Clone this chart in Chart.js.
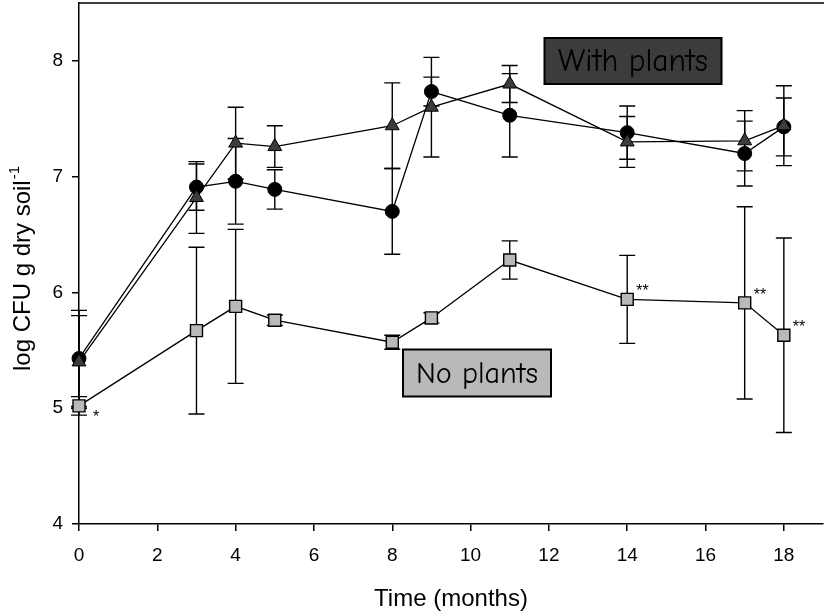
<!DOCTYPE html>
<html><head><meta charset="utf-8">
<script src="https://cdn.jsdelivr.net/npm/chart.js@4.4.0/dist/chart.umd.min.js"></script>
<style>html,body{margin:0;padding:0;background:#fff;}#wrap{width:825px;height:612px;}</style>
</head><body><div id="wrap"><canvas id="c" width="825" height="612"></canvas></div>
<script>
// ---- data ----
const months = [0, 3, 4, 5, 8, 9, 11, 14, 17, 18];
const withPlantsCircle = [5.43, 6.91, 6.96, 6.89, 6.70, 7.735, 7.53, 7.38, 7.20, 7.43];
const withPlantsCircleErr = [0.415, 0.20, 0.37, 0.17, 0.37, 0.125, 0.36, 0.23, 0.28, 0.25];
const withPlantsTriangle = [5.40, 6.82, 7.29, 7.26, 7.44, 7.60, 7.80, 7.30, 7.31, 7.44];
const withPlantsTriangleErr = [0.40, 0.31, 0.31, 0.18, 0.37, 0.43, 0.16, 0.22, 0.26, 0.345];
const noPlants = [5.02, 5.67, 5.88, 5.76, 5.57, 5.78, 6.28, 5.94, 5.91, 5.63];
const noPlantsErr = [0.08, 0.72, 0.665, 0.045, 0.06, 0.045, 0.165, 0.38, 0.83, 0.84];
const noPlantsSig = ['*', '', '', '', '', '', '', '**', '**', '**'];
const xTicks = [0, 2, 4, 6, 8, 10, 12, 14, 16, 18];
const yTicks = [4, 5, 6, 7, 8];
const xTitle = 'Time (months)';
const yTitle = 'log CFU g dry soil';
const yTitleSup = '-1';
const labelWith = 'With plants';
const labelNo = 'No plants';

const FONT = '"Liberation Sans", Arial, Helvetica, sans-serif';
const BOXFONT = '"Comic Sans MS", "Comic Neue", "DejaVu Sans", sans-serif';
const pts = (ys) => months.map((m, i) => ({x: m, y: ys[i]}));

const errorBars = {
  id: 'errorBars',
  beforeDatasetsDraw(chart) {
    const {ctx, scales: {x, y}} = chart;
    const errs = [withPlantsCircleErr, withPlantsTriangleErr, noPlantsErr];
    ctx.save();
    ctx.strokeStyle = '#000';
    ctx.lineWidth = 1.4;
    chart.data.datasets.forEach((ds, di) => {
      const e = errs[di];
      ds.data.forEach((p, i) => {
        const px = x.getPixelForValue(p.x);
        const top = y.getPixelForValue(p.y + e[i]);
        const bot = y.getPixelForValue(p.y - e[i]);
        ctx.beginPath();
        ctx.moveTo(px, top); ctx.lineTo(px, bot);
        ctx.moveTo(px - 8, top); ctx.lineTo(px + 8, top);
        ctx.moveTo(px - 8, bot); ctx.lineTo(px + 8, bot);
        ctx.stroke();
      });
    });
    ctx.restore();
  }
};

const decorations = {
  id: 'decorations',
  afterDraw(chart) {
    const {ctx, chartArea: ca, scales: {x, y}} = chart;
    ctx.save();
    // top frame line
    ctx.strokeStyle = '#000';
    ctx.lineWidth = 1.6;
    ctx.beginPath();
    ctx.moveTo(ca.left, ca.top); ctx.lineTo(ca.right + 1, ca.top);
    ctx.stroke();

    // significance asterisks
    ctx.fillStyle = '#000';
    ctx.font = '16px ' + FONT;
    ctx.textAlign = 'left';
    ctx.textBaseline = 'alphabetic';
    noPlantsSig.forEach((s, i) => {
      if (!s) return;
      const px = x.getPixelForValue(months[i]);
      const py = y.getPixelForValue(noPlants[i]);
      if (i === 0) ctx.fillText(s, px + 14, py + 16);
      else ctx.fillText(s, px + 9, py - 3);
    });

    // label boxes
    const box = (text, cx, cy, w, h, fill, textW) => {
      ctx.fillStyle = fill;
      ctx.fillRect(cx - w / 2, cy - h / 2, w, h);
      ctx.strokeStyle = '#000';
      ctx.lineWidth = 2;
      ctx.strokeRect(cx - w / 2, cy - h / 2, w, h);
      ctx.font = '30px ' + BOXFONT;
      const mw = ctx.measureText(text).width;
      const fs = 30 * textW / mw;
      ctx.font = fs.toFixed(1) + 'px ' + BOXFONT;
      ctx.fillStyle = '#000';
      ctx.textAlign = 'center';
      ctx.textBaseline = 'middle';
      ctx.fillText(text, cx, cy + 1);
    };
    box(labelWith, ca.left + 554, 61, 177, 46, '#3c3c3c', 150);
    box(labelNo, ca.left + 398, 373, 148, 47, '#b9b9b9', 122);

    // axis titles
    ctx.fillStyle = '#000';
    ctx.textAlign = 'center';
    ctx.textBaseline = 'alphabetic';
    ctx.font = '24px ' + FONT;
    ctx.fillText(xTitle, (ca.left + ca.right) / 2, 606);

    ctx.font = '24px ' + FONT;
    const w1 = ctx.measureText(yTitle).width;
    ctx.font = '15px ' + FONT;
    const w2 = ctx.measureText(yTitleSup).width;
    const total = w1 + 1 + w2;
    const cy = (ca.top + ca.bottom) / 2 + 5;
    ctx.translate(30, cy + total / 2);
    ctx.rotate(-Math.PI / 2);
    ctx.textAlign = 'left';
    ctx.font = '24px ' + FONT;
    ctx.fillText(yTitle, 0, 0);
    ctx.font = '15px ' + FONT;
    ctx.fillText(yTitleSup, w1 + 1, -11);
    ctx.restore();
  }
};

const zeroPad = (s) => { s.paddingTop = 0; s.paddingBottom = 0; s.paddingLeft = 0; s.paddingRight = 0; };

new Chart(document.getElementById('c'), {
  type: 'line',
  data: {
    datasets: [
      {label: 'With plants (circles)', data: pts(withPlantsCircle), borderColor: '#000', borderWidth: 1.3, clip: false,
       pointStyle: 'circle', pointRadius: 7, pointBackgroundColor: '#000', pointBorderColor: '#000', pointBorderWidth: 1, order: 2},
      {label: 'With plants (triangles)', data: pts(withPlantsTriangle), borderColor: '#000', borderWidth: 1.3, clip: false,
       pointStyle: 'triangle', pointRadius: 8, pointBackgroundColor: '#3c3c3c', pointBorderColor: '#000', pointBorderWidth: 1, order: 1},
      {label: 'No plants', data: pts(noPlants), borderColor: '#000', borderWidth: 1.3, clip: false,
       pointStyle: 'rect', pointRadius: 8.5, pointBackgroundColor: '#b9b9b9', pointBorderColor: '#000', pointBorderWidth: 1.4, order: 0}
    ]
  },
  options: {
    responsive: false,
    animation: false,
    devicePixelRatio: 1,
    layout: {autoPadding: false, padding: {top: 3, right: 2, left: 0, bottom: 0}},
    plugins: {legend: {display: false}, tooltip: {enabled: false}},
    elements: {line: {tension: 0}},
    scales: {
      x: {
        type: 'linear', min: 0, max: 19,
        afterBuildTicks: (s) => { s.ticks = xTicks.map(v => ({value: v})); },
        afterFit: (s) => { s.height = 88; zeroPad(s); },
        ticks: {color: '#000', font: {family: FONT, size: 19}, padding: 13, maxRotation: 0, includeBounds: false},
        grid: {drawOnChartArea: false, drawTicks: true, tickLength: 7, color: '#000', lineWidth: 1.5},
        border: {color: '#000', width: 1.5}
      },
      y: {
        type: 'linear', min: 4, max: 8.5,
        afterBuildTicks: (s) => { s.ticks = yTicks.map(v => ({value: v})); },
        afterFit: (s) => { s.width = 79; zeroPad(s); },
        ticks: {color: '#000', font: {family: FONT, size: 19}, padding: 9, includeBounds: false},
        grid: {drawOnChartArea: false, drawTicks: true, tickLength: 7, color: '#000', lineWidth: 1.5},
        border: {color: '#000', width: 1.5}
      }
    }
  },
  plugins: [errorBars, decorations]
});
</script>
</body></html>
